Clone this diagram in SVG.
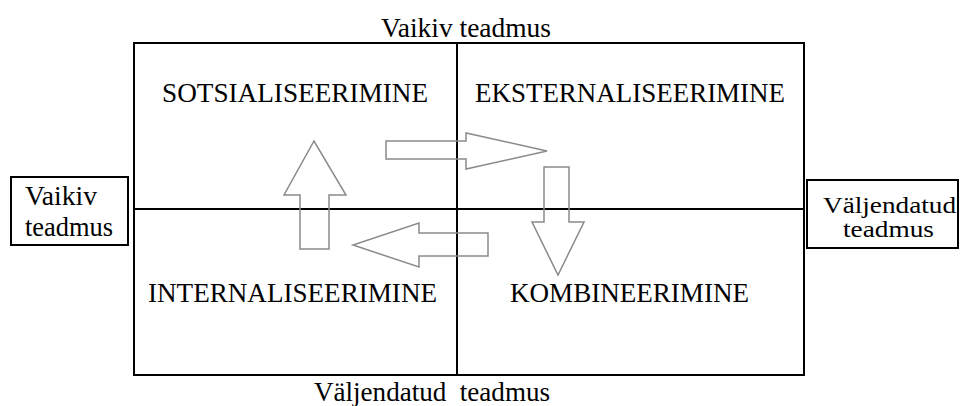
<svg xmlns="http://www.w3.org/2000/svg" width="960" height="406" viewBox="0 0 960 406">
<style>
.box{fill:none;stroke:#000;stroke-width:2}
.div{stroke:#000;stroke-width:2}
.arr{fill:none;stroke:#8a8a8a;stroke-width:1.5;stroke-linejoin:miter}
text{font-family:'Liberation Serif','DejaVu Serif','Noto Serif',serif;font-size:28px;fill:#000;white-space:pre}
.sm{font-size:24px}
</style>
<rect width="960" height="406" fill="#fff"/>
<g id="matrix">
<rect class="box" x="134" y="43" width="670" height="332"/>
<line class="div" x1="457" y1="43" x2="457" y2="375"/>
<line class="div" x1="134" y1="209" x2="804" y2="209"/>
</g>
<g id="top-label"><text x="381" y="37" textLength="170" lengthAdjust="spacingAndGlyphs">Vaikiv teadmus</text></g>
<g id="bottom-label"><text x="314" y="401" textLength="236" lengthAdjust="spacingAndGlyphs">Väljendatud  teadmus</text></g>
<g id="left-label">
<rect class="box" x="11" y="177" width="117" height="68"/>
<text x="25" y="205" textLength="72" lengthAdjust="spacingAndGlyphs">Vaikiv</text>
<text x="25" y="236" textLength="88" lengthAdjust="spacingAndGlyphs">teadmus</text>
</g>
<g id="right-label">
<rect class="box" x="807" y="180" width="151" height="68"/>
<text class="sm" x="823" y="213" textLength="133" lengthAdjust="spacingAndGlyphs">Väljendatud</text>
<text class="sm" x="843" y="237" textLength="91" lengthAdjust="spacingAndGlyphs">teadmus</text>
</g>
<g id="sotsialiseerimine"><text x="162" y="102" textLength="266" lengthAdjust="spacingAndGlyphs">SOTSIALISEERIMINE</text></g>
<g id="eksternaliseerimine"><text x="475" y="102" textLength="310" lengthAdjust="spacingAndGlyphs">EKSTERNALISEERIMINE</text></g>
<g id="internaliseerimine"><text x="148" y="302" textLength="289" lengthAdjust="spacingAndGlyphs">INTERNALISEERIMINE</text></g>
<g id="kombineerimine"><text x="510" y="302" textLength="239" lengthAdjust="spacingAndGlyphs">KOMBINEERIMINE</text></g>
<g id="connectors">
<polygon class="arr" points="386,141 466,141 466,133 547,151 466,169 466,159 386,159"/>
<polygon class="arr" points="544,167 569,167 569,222 584,222 558,275 532,222 544,222"/>
<polygon class="arr" points="488,233 419,233 419,223 353,245 419,267 419,256 488,256"/>
<polygon class="arr" points="300,249 300,195 284,195 314,141 346,195 329,195 329,249"/>
</g>
</svg>
